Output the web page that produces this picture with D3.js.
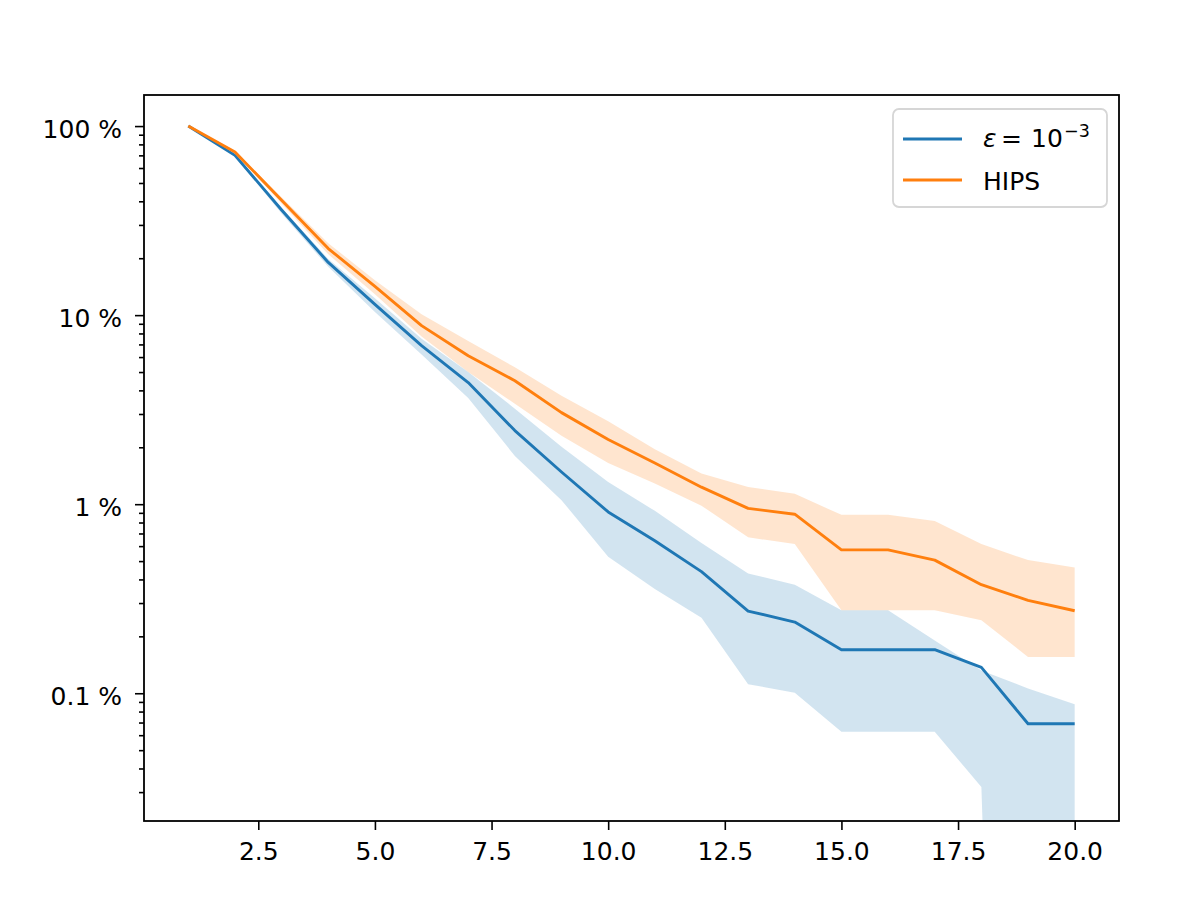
<!DOCTYPE html>
<html>
<head>
<meta charset="utf-8">
<script src="https://cdn.jsdelivr.net/npm/d3@7"></script>
<style>
  body { margin: 0; background: #fff; }
  text { font-family: "DejaVu Sans", sans-serif; fill: #000; }
</style>
</head>
<body>
<svg width="1196" height="903"></svg>
<script>
// steps on the x axis
let steps = [1, 2, 3, 4, 5, 6, 7, 8, 9, 10, 11, 12, 13, 14, 15, 16, 17, 18, 19, 20];

// epsilon = 1e-3 run (percent), with its band
let epsMean  = [100, 70, 36, 19, 11.4, 6.9, 4.4, 2.45, 1.48, 0.91, 0.64, 0.44, 0.272, 0.238, 0.170, 0.170, 0.170, 0.137, 0.069, 0.069];
let epsUpper = [100, 71, 37, 19.8, 12.3, 7.5, 5.0, 3.2, 2.01, 1.31, 0.922, 0.623, 0.43, 0.3745, 0.275, 0.275, 0.19, 0.132, 0.106, 0.0875];
let epsLower = [100, 69, 34.5, 18, 10.4, 6.2, 3.65, 1.8, 1.05, 0.528, 0.356, 0.2506, 0.1117, 0.1007, 0.0626, 0.0626, 0.0626, 0.0319, 0, 0];

// HIPS run (percent), with its band
let hipsMean  = [100, 73, 40.5, 22.5, 14.2, 8.8, 6.1, 4.5, 3.05, 2.2, 1.65, 1.23, 0.95, 0.885, 0.573, 0.573, 0.506, 0.375, 0.31, 0.273];
let hipsUpper = [100, 74, 42, 24, 15.3, 10.1, 7.3, 5.3, 3.75, 2.75, 1.95, 1.455, 1.233, 1.134, 0.878, 0.878, 0.815, 0.615, 0.506, 0.462];
let hipsLower = [100, 72, 39, 21, 12.9, 7.7, 5.0, 3.4, 2.3, 1.65, 1.285, 0.982, 0.668, 0.615, 0.275, 0.275, 0.275, 0.243, 0.1556, 0.1556];

let xTicks = [2.5, 5.0, 7.5, 10.0, 12.5, 15.0, 17.5, 20.0];
let yTicks = [0.1, 1, 10, 100];

let blue = "#1f77b4", orange = "#ff7f0e";
let pLeft = 144, pRight = 1119, pTop = 95, pBottom = 821;

let svg = d3.select("svg");

let x = d3.scaleLinear().domain([0.05, 20.95]).range([pLeft, pRight]);
let y = d3.scaleLog().domain([0.0211, 146]).range([pBottom, pTop]);

svg.append("clipPath").attr("id", "plot")
  .append("rect")
  .attr("x", pLeft).attr("y", pTop)
  .attr("width", pRight - pLeft).attr("height", pBottom - pTop);

let plot = svg.append("g").attr("clip-path", "url(#plot)");

// zero lower bounds go off the bottom, so clamp them to a tiny value
let band = (lo, hi) => d3.area()
  .x((d, i) => x(steps[i]))
  .y0((d, i) => y(Math.max(lo[i], 1e-9)))
  .y1((d, i) => y(hi[i]));

let line = vals => d3.line()
  .x((d, i) => x(steps[i]))
  .y((d, i) => y(vals[i]));

let series = [
  { mean: epsMean, lo: epsLower, hi: epsUpper, color: blue },
  { mean: hipsMean, lo: hipsLower, hi: hipsUpper, color: orange }
];

series.forEach(function (s) {
  plot.append("path")
    .attr("d", band(s.lo, s.hi)(steps))
    .attr("fill", s.color)
    .attr("fill-opacity", 0.2);
  plot.append("path")
    .attr("d", line(s.mean)(steps))
    .attr("fill", "none")
    .attr("stroke", s.color)
    .attr("stroke-width", 2.9)
    .attr("stroke-linejoin", "round");
});

// x axis
let xAxis = svg.append("g")
  .attr("transform", "translate(0," + pBottom + ")")
  .call(d3.axisBottom(x).tickValues(xTicks).tickFormat(d3.format(".1f")).tickSize(9).tickSizeOuter(0));
xAxis.selectAll("text").attr("y", 39).attr("dy", null).style("font-size", "25px");

// y axis, major and minor ticks
let yAxis = svg.append("g")
  .attr("transform", "translate(" + pLeft + ",0)")
  .call(d3.axisLeft(y).tickValues(yTicks).tickFormat(d => d + " %").tickSize(9).tickPadding(13).tickSizeOuter(0));
yAxis.selectAll("text").attr("dy", "0.45em").style("font-size", "25px");

let minor = y.ticks().filter(d => yTicks.indexOf(d) < 0 && d >= 0.0211);
svg.append("g")
  .attr("transform", "translate(" + pLeft + ",0)")
  .call(d3.axisLeft(y).tickValues(minor).tickFormat("").tickSize(5).tickSizeOuter(0));

svg.selectAll(".domain").remove();
svg.selectAll(".tick line").attr("stroke", "#000").attr("stroke-width", 1.6);

// frame around the plot
svg.append("rect")
  .attr("x", pLeft).attr("y", pTop)
  .attr("width", pRight - pLeft).attr("height", pBottom - pTop)
  .attr("fill", "none")
  .attr("stroke", "#000")
  .attr("stroke-width", 1.8);

// legend
let legend = svg.append("g");
legend.append("rect")
  .attr("x", 893).attr("y", 109)
  .attr("width", 214).attr("height", 98)
  .attr("rx", 6)
  .attr("fill", "#fff").attr("fill-opacity", 0.8)
  .attr("stroke", "#d6d6d6").attr("stroke-width", 1.8);

legend.selectAll("line.key")
  .data([blue, orange])
  .enter().append("line")
  .classed("key", true)
  .attr("x1", 903).attr("x2", 962)
  .attr("y1", (d, i) => 139 + i * 41)
  .attr("y2", (d, i) => 139 + i * 41)
  .attr("stroke", d => d)
  .attr("stroke-width", 2.9);

let epsLabel = legend.append("text").attr("y", 147).style("font-size", "25px");
epsLabel.append("tspan").attr("x", 983).style("font-style", "italic").text("ε");
epsLabel.append("tspan").attr("x", 1001).text("=");
epsLabel.append("tspan").attr("x", 1031).text("10");
epsLabel.append("tspan").attr("x", 1064).attr("y", 137).style("font-size", "17.5px").text("−3");

legend.append("text")
  .attr("x", 983).attr("y", 190)
  .style("font-size", "25px")
  .text("HIPS");
</script>
</body>
</html>
